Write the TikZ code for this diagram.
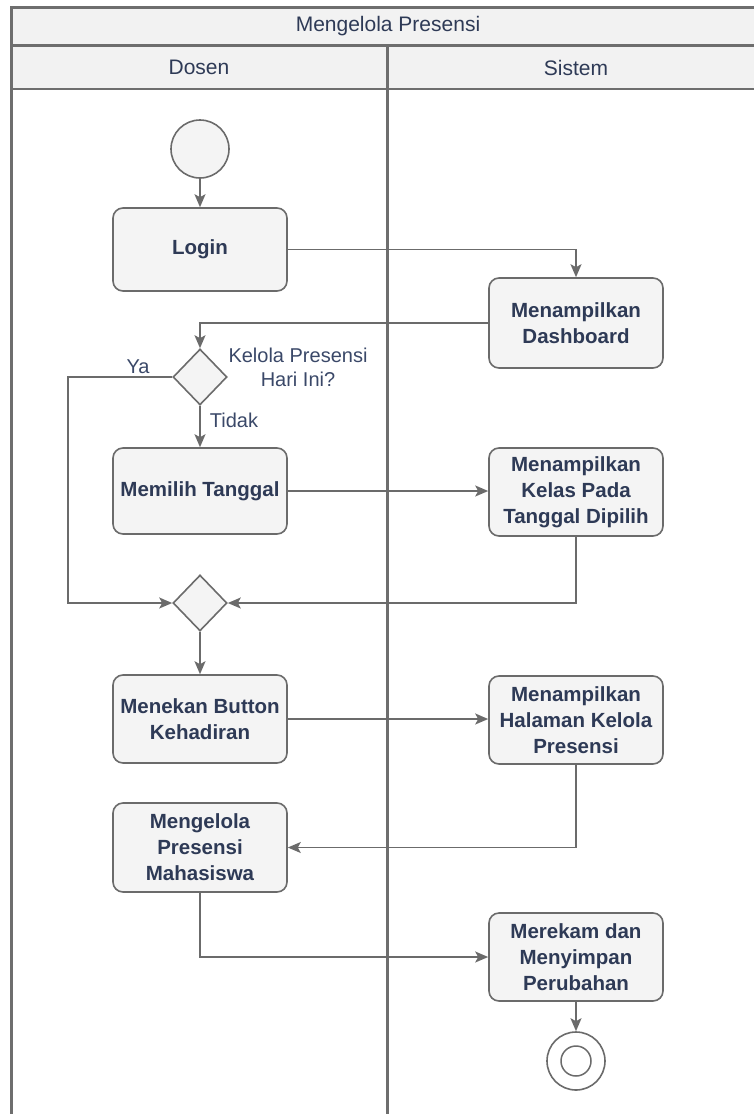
\documentclass[tikz,border=0pt]{standalone}
\usepackage{fontspec}
\setmainfont{Liberation Sans}
\usetikzlibrary{arrows.meta,shapes.geometric,calc}

\definecolor{linegray}{HTML}{6B6B6B}
\definecolor{framegray}{HTML}{6E6E6E}
\definecolor{boxfill}{HTML}{F4F4F4}
\definecolor{headfill}{HTML}{F2F2F2}
\definecolor{boxtext}{HTML}{2E3A56}
\definecolor{labeltext}{HTML}{3A4868}

\tikzset{
  actbox/.style={rectangle, rounded corners=10pt, draw=linegray, line width=1.6pt,
    fill=boxfill, minimum width=174pt, align=center, inner sep=2pt,
    text=boxtext, font=\fontsize{20.5}{26}\selectfont\bfseries},
  decision/.style={diamond, draw=linegray, line width=1.6pt, fill=boxfill,
    minimum width=54pt, minimum height=56pt, inner sep=0pt},
  startnode/.style={circle, draw=linegray, line width=1.6pt, fill=boxfill,
    minimum size=58pt, inner sep=0pt},
  endnode/.style={circle, draw=linegray, line width=1.6pt, fill=white,
    minimum size=58pt, inner sep=0pt,
    path picture={\draw[linegray, line width=1.5pt]
      (path picture bounding box.center) circle (15pt);}},
  flow/.style={draw=linegray, line width=1.8pt,
    -{Stealth[length=13pt, width=11pt, inset=3pt]}},
  guard/.style={text=labeltext, font=\fontsize{20}{24}\selectfont, align=center, inner sep=0pt},
  lanehead/.style={text=boxtext, font=\fontsize{21}{25}\selectfont, inner sep=0pt},
  frame/.style={draw=framegray, line width=2.2pt},
}

\begin{document}
\begin{tikzpicture}[x=1pt, y=-1pt]
\useasboundingbox (0,0) rectangle (754,1114);
\clip (0,0) rectangle (754,1114);

% swimlane pool with its two lanes
\fill[headfill] (11.5,7.5) rectangle (765,89);
\draw[frame] (11.5,1130) -- (11.5,7.5) -- (765,7.5);
\draw[frame] (11.5,45.5) -- (765,45.5);
\draw[frame] (11.5,89) -- (765,89);
\draw[frame] (387.5,45.5) -- (387.5,1130);
\node[lanehead] (pool) at (388,26.5) {Mengelola Presensi};
\node[lanehead] (dosen) at (199,67.5) {Dosen};
\node[lanehead] (sistem) at (576,67.5) {Sistem};

% activity nodes
\node[startnode] (start) at (200,149) {};
\node[actbox, minimum height=83pt] (login) at (200,249.5) {Login};
\node[actbox, minimum height=90pt] (dash) at (576,323) {Menampilkan\\Dashboard};
\node[decision] (d1) at (200,377) {};
\node[actbox, minimum height=86pt] (pilih) at (200,491) {Memilih Tanggal};
\node[actbox, minimum height=88pt] (kelas) at (576,492) {Menampilkan\\Kelas Pada\\Tanggal Dipilih};
\node[decision] (d2) at (200,603) {};
\node[actbox, minimum height=88pt] (tekan) at (200,719) {Menekan Button\\Kehadiran};
\node[actbox, minimum height=88pt] (halaman) at (576,720) {Menampilkan\\Halaman Kelola\\Presensi};
\node[actbox, minimum height=89pt] (kelola) at (200,847.5) {Mengelola\\Presensi\\Mahasiswa};
\node[actbox, minimum height=88pt] (rekam) at (576,957) {Merekam dan\\Menyimpan\\Perubahan};
\node[endnode] (end) at (576,1061) {};

% guard labels
\node[guard] (q1) at (298,367) {Kelola Presensi\\Hari Ini?};
\node[guard] (ya) at (138,367) {Ya};
\node[guard] (tidak) at (234,420) {Tidak};
\coordinate (yaleft) at (68,377);

% control flow
\draw[flow] (start) -- (login);
\draw[flow] (login.east) -- (login.east -| dash.north) -- (dash.north);
\draw[flow] (dash.west) -- (dash.west -| d1.north) -- (d1.north);
\draw[flow] (d1.west) -- (yaleft) |- (d2.west);
\draw[flow] (d1.south) -- (pilih.north);
\draw[flow] (pilih.east) -- (pilih.east -| kelas.west);
\draw[flow] (kelas.south) |- (d2.east);
\draw[flow] (d2.south) -- (tekan.north);
\draw[flow] (tekan.east) -- (tekan.east -| halaman.west);
\draw[flow] (halaman.south) |- (kelola.east);
\draw[flow] (kelola.south) |- (rekam.west);
\draw[flow] (rekam.south) -- (end.north);
\end{tikzpicture}
\end{document}
